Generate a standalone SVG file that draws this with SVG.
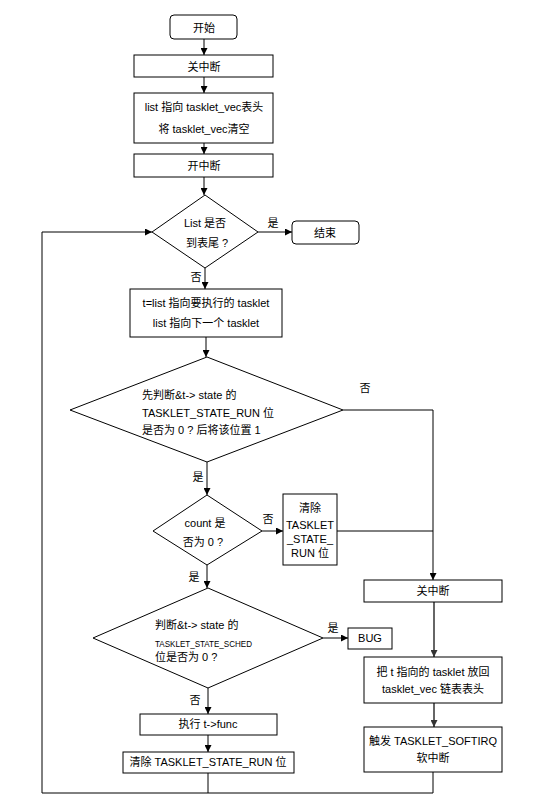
<svg xmlns="http://www.w3.org/2000/svg" width="556" height="807" viewBox="0 0 556 807">
<defs>
<marker id="ah" viewBox="0 0 10 10" refX="10" refY="5" markerWidth="7" markerHeight="7" markerUnits="userSpaceOnUse" orient="auto"><path d="M0,0 L10,5 L0,10 z" fill="#000"/></marker>
<marker id="ahg" viewBox="0 0 10 10" refX="10" refY="5" markerWidth="7" markerHeight="7" markerUnits="userSpaceOnUse" orient="auto"><path d="M0,0 L10,5 L0,10 z" fill="#333"/></marker>
</defs>
<style>
rect,polygon{fill:#fff;stroke:#000;stroke-width:1}
.c{fill:none;stroke:#000;stroke-width:1}
.g{fill:none;stroke:#666;stroke-width:2}
text{font-family:"Liberation Sans","Noto Sans CJK SC",sans-serif;font-size:11px;fill:#000;text-anchor:middle;dominant-baseline:central}
.l{text-anchor:start}
.s{font-size:9.5px}
</style>
<rect width="556" height="807" style="fill:#fff;stroke:none"/>
<g id="connectors">
<path class="c" d="M204,39 V55" marker-end="url(#ah)"/>
<path class="c" d="M204,77 V93" marker-end="url(#ah)"/>
<path class="c" d="M204,143 V154" marker-end="url(#ah)"/>
<path class="c" d="M204,177 V195" marker-end="url(#ah)"/>
<path class="c" d="M258,232 H292" marker-end="url(#ah)"/>
<path class="c" d="M205,268 V289" marker-end="url(#ah)"/>
<path class="c" d="M206,337 V357" marker-end="url(#ah)"/>
<path class="c" d="M343,410 H433 V580" marker-end="url(#ah)"/>
<path class="c" d="M207,462 V495" marker-end="url(#ah)"/>
<path class="c" d="M262,531 H283" marker-end="url(#ah)"/>
<path class="c" d="M337,531 H433"/>
<path class="c" d="M207,565 V588" marker-end="url(#ah)"/>
<path class="c" d="M323,638 H348" marker-end="url(#ah)"/>
<path class="c" d="M208,688 V714" marker-end="url(#ah)"/>
<path class="c" d="M208,735 V752" marker-end="url(#ah)"/>
<path class="g" d="M434,602 V657" marker-end="url(#ahg)"/>
<path class="g" d="M434,703 V727" marker-end="url(#ahg)"/>
<path class="c" d="M208,773 V793"/>
<path class="c" d="M433,772 V793 H42 V232 H152" marker-end="url(#ah)"/>
<text x="273" y="223">是</text>
<text x="196" y="277">否</text>
<text x="365" y="388">否</text>
<text x="198" y="477">是</text>
<text x="268" y="519">否</text>
<text x="194" y="577">是</text>
<text x="333" y="628">是</text>
<text x="195" y="700">否</text>
</g>
<g id="start"><rect x="170" y="15" width="67" height="24" rx="4"/><text x="204" y="28">开始</text></g>
<g id="cli1"><rect x="134" y="55" width="139" height="22"/><text x="204" y="67">关中断</text></g>
<g id="list"><rect x="134" y="93" width="139" height="50"/><text x="204" y="107">list 指向 tasklet_vec表头</text><text x="204" y="129">将 tasklet_vec清空</text></g>
<g id="sti"><rect x="134" y="154" width="139" height="23"/><text x="204" y="166">开中断</text></g>
<g id="d1"><polygon points="205,195 258,232 205,268 152,232"/><text x="205" y="223">List 是否</text><text x="207" y="243">到表尾 ?</text></g>
<g id="end"><rect x="292" y="221" width="67" height="23" rx="4"/><text x="325" y="233">结束</text></g>
<g id="tlist"><rect x="130" y="289" width="152" height="48"/><text x="206" y="303">t=list 指向要执行的 tasklet</text><text x="206" y="323">list 指向下一个 tasklet</text></g>
<g id="d2"><polygon points="207,357 343,410 207,462 70,410"/><text class="l" x="142" y="395">先判断&amp;t-&gt; state 的</text><text class="l" x="142" y="413">TASKLET_STATE_RUN 位</text><text class="l" x="142" y="430">是否为 0 ? 后将该位置 1</text></g>
<g id="d3"><polygon points="207,495 262,531 207,565 153,531"/><text x="205" y="523">count 是</text><text x="203" y="542">否为 0 ?</text></g>
<g id="clr1"><rect x="283" y="494" width="54" height="71"/><text x="310" y="508">清除</text><text x="310" y="525">TASKLET</text><text x="310" y="539">_STATE_</text><text x="310" y="553">RUN 位</text></g>
<g id="cli2"><rect x="364" y="580" width="138" height="22"/><text x="433" y="591">关中断</text></g>
<g id="d4"><polygon points="208,588 323,638 208,688 93,638"/><text class="l" x="155" y="625">判断&amp;t-&gt; state 的</text><text class="l s" x="155" y="643" textLength="97" lengthAdjust="spacingAndGlyphs">TASKLET_STATE_SCHED</text><text class="l" x="155" y="657">位是否为 0 ?</text></g>
<g id="bug"><rect x="348" y="628" width="44" height="21"/><text x="370" y="638">BUG</text></g>
<g id="putback"><rect x="364" y="657" width="138" height="46"/><text x="433" y="672">把 t 指向的 tasklet 放回</text><text x="433" y="689">tasklet_vec 链表表头</text></g>
<g id="raise"><rect x="364" y="727" width="138" height="45"/><text x="433" y="741">触发 TASKLET_SOFTIRQ</text><text x="433" y="758">软中断</text></g>
<g id="func"><rect x="140" y="714" width="137" height="21"/><text x="208" y="724">执行 t-&gt;func</text></g>
<g id="clr2"><rect x="123" y="752" width="171" height="21"/><text x="208" y="762">清除 TASKLET_STATE_RUN 位</text></g>
</svg>
